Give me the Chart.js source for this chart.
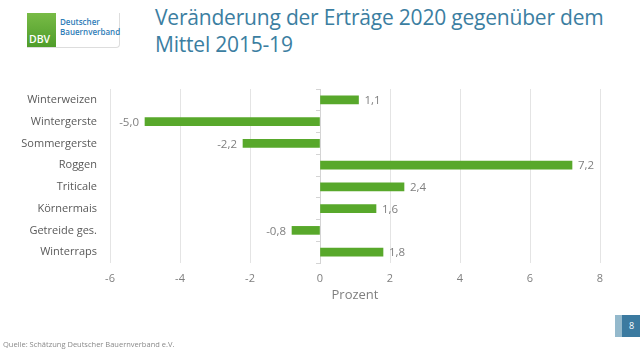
<!DOCTYPE html>
<html lang="de">
<head>
<meta charset="utf-8">
<title>Veränderung der Erträge 2020</title>
<script src="https://cdn.jsdelivr.net/npm/chart.js@4"></script>
<style>
  html, body { margin: 0; padding: 0; background: #fff; }
  body { width: 640px; height: 353px; position: relative; overflow: hidden; font-family: "Open Sans", sans-serif; }
  #chart { position: absolute; left: 0; top: 0; }
  .title { position: absolute; left: 155px; top: 4px; font-size: 21px; letter-spacing: -0.2px; line-height: 27px; color: #3b7ea1; white-space: nowrap; }
  .logo { position: absolute; left: 27px; top: 13px; width: 92px; height: 34px; border-right: 1px solid #ddd; border-bottom: 1px solid #ddd; border-radius: 0 0 4px 0; }
  .logo .box { position: absolute; left: 0; top: 0; width: 29px; height: 34px; background: linear-gradient(#78bb46, #4f9d2a); }
  .logo .box span { position: absolute; left: 2px; bottom: 1px; color: #fff; font-size: 10.5px; font-weight: 600; }
  .logo .name { position: absolute; left: 33px; top: 4px; font-size: 8px; line-height: 9.5px; color: #2f7db8; font-weight: 600; white-space: nowrap; }
  .src { position: absolute; left: 3px; top: 339px; font-size: 7.5px; color: #8a8a8a; white-space: nowrap; }
  .page { position: absolute; left: 615px; top: 315px; width: 25px; height: 22px; background: #3b7aa0; }
  .page .strip { position: absolute; left: 0; top: 0; width: 7px; height: 22px; background: #94b9cc; }
  .page span { position: absolute; left: 14px; top: 4px; color: #fff; font-size: 9px; }
</style>
</head>
<body>
<div class="logo"><div class="box"><span>DBV</span></div><div class="name">Deutscher<br>Bauernverband</div></div>
<div class="title">Veränderung der Erträge 2020 gegenüber dem<br>Mittel 2015-19</div>
<canvas id="chart" width="640" height="353"></canvas>
<div class="src">Quelle: Schätzung Deutscher Bauernverband e.V.</div>
<div class="page"><div class="strip"></div><span>8</span></div>

<script>
// Crop categories and change vs. 2015-19 mean (percent).
const CROPS = ["Winterweizen", "Wintergerste", "Sommergerste", "Roggen",
               "Triticale", "Körnermais", "Getreide ges.", "Winterraps"];
const CHANGE = [1.1, -5.0, -2.2, 7.2, 2.4, 1.6, -0.8, 1.8];
const X_MIN = -6;
const X_MAX = 8;
const X_STEP = 2;

const GREEN = "#58a82b";
const GRID = "#e4e4e4";
const TEXT = "#7f7f7f";

function fmtDe(v) {
  return v.toFixed(1).replace(".", ",");
}

// Value labels at bar ends: right of positive bars, left of negative ones.
const valueLabels = {
  id: "valueLabels",
  afterDatasetsDraw(chart) {
    const ctx = chart.ctx;
    const meta = chart.getDatasetMeta(0);
    ctx.save();
    ctx.font = "11.5px 'Open Sans', sans-serif";
    ctx.fillStyle = TEXT;
    ctx.textBaseline = "middle";
    meta.data.forEach((bar, i) => {
      const v = CHANGE[i];
      if (v >= 0) {
        ctx.textAlign = "left";
        ctx.fillText(fmtDe(v), bar.x + 6, bar.y + 1);
      } else {
        ctx.textAlign = "right";
        ctx.fillText(fmtDe(v), bar.x - 6, bar.y + 1);
      }
    });
    ctx.restore();
  },
};

new Chart(document.getElementById("chart"), {
  type: "bar",
  data: {
    labels: CROPS,
    datasets: [{
      data: CHANGE,
      backgroundColor: GREEN,
      borderWidth: 0,
      barThickness: 8,
    }],
  },
  options: {
    indexAxis: "y",
    responsive: false,
    animation: false,
    layout: { padding: { left: 0, right: 40, top: 89, bottom: 45 } },
    plugins: { legend: { display: false }, tooltip: { enabled: false } },
    scales: {
      x: {
        min: X_MIN,
        max: X_MAX,
        ticks: { stepSize: X_STEP, color: TEXT, padding: 9,
                 font: { family: "'Open Sans', sans-serif", size: 11 } },
        grid: { drawTicks: false, color: c => c.tick && c.tick.value === 0 ? "rgba(0,0,0,0)" : GRID },
        border: { display: false },
        title: { display: true, text: "Prozent", color: TEXT,
                 font: { family: "'Open Sans', sans-serif", size: 13 }, padding: { top: 0, bottom: 5 } },
        afterFit: s => { s.height = 45; },
      },
      y: {
        ticks: { color: "#595959", padding: 13,
                 font: { family: "'Open Sans', sans-serif", size: 11 } },
        grid: { display: false, drawTicks: false },
        border: { display: false },
        afterFit: s => { s.width = 110; },
      },
      // zero line with small tick marks between the categories
      zero: {
        type: "category",
        axis: "y",
        position: { x: 0 },
        offset: true,
        ticks: { display: false },
        grid: { offset: true, drawOnChartArea: false, tickLength: 4, color: "#d4d4d4" },
        border: { display: true, color: "#d4d4d4" },
      },
    },
  },
  plugins: [valueLabels],
});
</script>
</body>
</html>
